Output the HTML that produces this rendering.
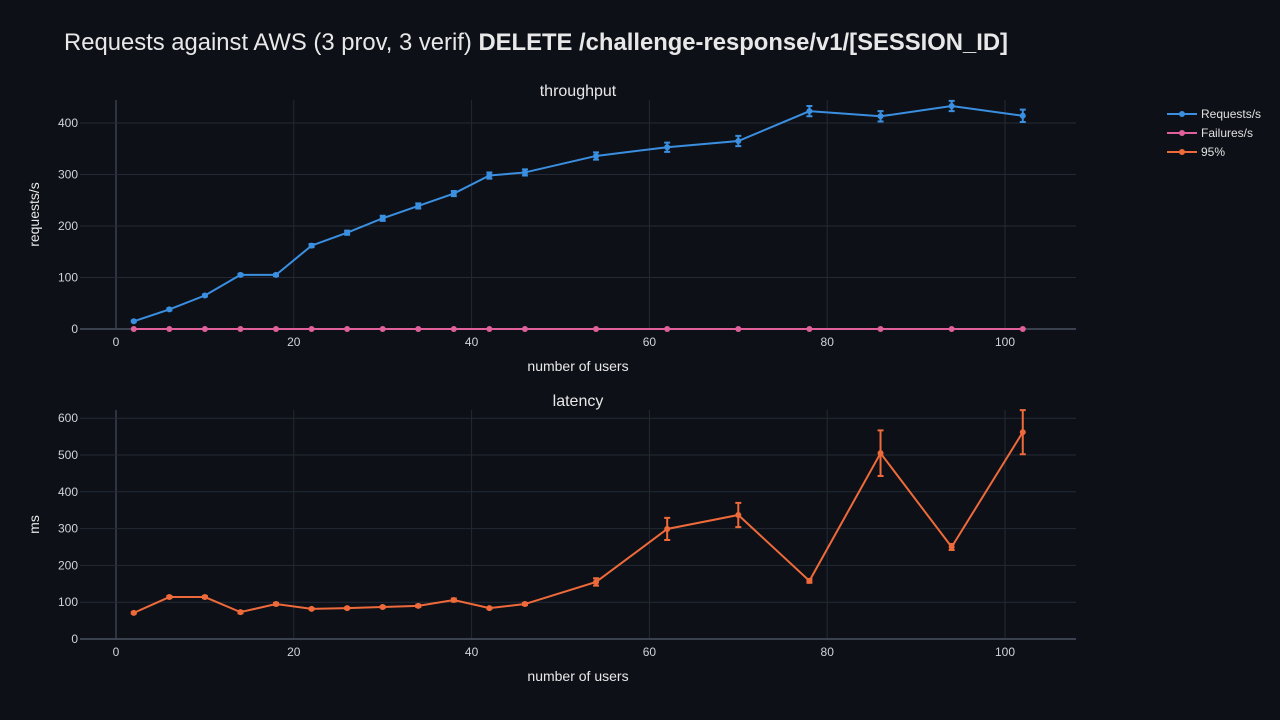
<!DOCTYPE html>
<html><head><meta charset="utf-8"><style>
html,body{margin:0;padding:0;background:#0d1017;}
svg{display:block;font-family:"Liberation Sans",sans-serif;}
</style></head><body>
<svg id="c" width="1280" height="720">
<rect width="1280" height="720" fill="#0d1017"/>
<text x="64" y="50" font-size="24" fill="#e8e8e8" textLength="944" lengthAdjust="spacingAndGlyphs">Requests against AWS (3 prov, 3 verif) <tspan font-weight="bold">DELETE /challenge-response/v1/[SESSION_ID]</tspan></text>
<g id="legend"></g>
</svg>
<script>
const users = [2,6,10,14,18,22,26,30,34,38,42,46,54,62,70,78,86,94,102];
const requests = [15,38,65,105,105,162,187,215,239,263,298,304,336,353,365,423,413,433,414];
const requestsErr = [1,2,2,2,2,3,4,5,5,5,6,6,7,9,10,10,10,10,12];
const failures = [0,0,0,0,0,0,0,0,0,0,0,0,0,0,0,0,0,0,0];
const p95 = [71,114,114,73,95,82,84,87,90,106,84,95,155,299,337,158,505,250,562];
const p95Err = [2,3,3,3,3,2,2,2,3,4,2,3,10,30,33,5,62,8,60];
const xTicks = [0,20,40,60,80,100];
const yTicksTop = [0,100,200,300,400];
const yTicksBot = [0,100,200,300,400,500,600];

const svg = document.getElementById('c');
const NS = 'http://www.w3.org/2000/svg';
function el(tag, attrs, parent){const e=document.createElementNS(NS,tag);for(const k in attrs)e.setAttribute(k,attrs[k]);(parent||svg).appendChild(e);return e;}
const xs = v => 116 + v*8.89;
const L=80,R=1076;

function panel(cfg){
  const g = el('g',{});
  
  
  const ys = v => cfg.y0 - v*cfg.k;
  xTicks.forEach(t=>{
    el('line',{x1:xs(t),x2:xs(t),y1:cfg.top,y2:cfg.y0,stroke:t===0?'#2c3440':'#232a35','stroke-width':t===0?2:1},g);
    const tx=el('text',{x:xs(t),y:cfg.y0+17,'font-size':12,fill:'#cfd3da','text-anchor':'middle'},g);tx.textContent=t;
  });
  cfg.yt.forEach(t=>{
    el('line',{x1:L,x2:R,y1:ys(t),y2:ys(t),stroke:t===0?'#3a4250':'#232a35','stroke-width':t===0?2:1},g);
    const tx=el('text',{x:L-2,y:ys(t)+4,'font-size':12,fill:'#cfd3da','text-anchor':'end'},g);tx.textContent=t;
  });
  const tt=el('text',{x:578,y:cfg.top-4,'font-size':16,fill:'#e8e8e8','text-anchor':'middle'},g);tt.textContent=cfg.title;
  const xt=el('text',{x:578,y:cfg.y0+42,'font-size':14,fill:'#e8e8e8','text-anchor':'middle'},g);xt.textContent='number of users';
  const yt=el('text',{x:0,y:0,'font-size':14,fill:'#e8e8e8','text-anchor':'middle',transform:`translate(39,${(cfg.top+cfg.y0)/2}) rotate(-90)`},g);yt.textContent=cfg.ytitle;
  cfg.series.forEach(s=>{
    const sg=el('g',{},g);
    
    
    if(s.err) users.forEach((u,i)=>{
      const x=xs(u),a=ys(s.vals[i]+s.err[i]),b=ys(s.vals[i]-s.err[i]);
      el('path',{d:`M${x},${a}V${b}M${x-3},${a}H${x+3}M${x-3},${b}H${x+3}`,stroke:s.color,'stroke-width':2,fill:'none'},sg);
    });
    el('polyline',{points:users.map((u,i)=>xs(u)+','+ys(s.vals[i])).join(' '),fill:'none',stroke:s.color,'stroke-width':2},sg);
    users.forEach((u,i)=>{
      const c=el('circle',{cx:xs(u),cy:ys(s.vals[i]),r:3,fill:s.color},sg);
      
      
    });
  });
}
panel({name:'throughput-panel',title:'throughput',ytitle:'requests/s',top:100,y0:329,k:0.515,yt:yTicksTop,
  series:[{name:'requests-series',vals:requests,err:requestsErr,color:'#3b8fe0'},{name:'failures-series',vals:failures,color:'#e0609c'}]});
panel({name:'latency-panel',title:'latency',ytitle:'ms',top:410,y0:639,k:0.368,yt:yTicksBot,
  series:[{name:'p95-series',vals:p95,err:p95Err,color:'#ee6a3a'}]});

const lg=document.getElementById('legend');
[['Requests/s','#3b8fe0'],['Failures/s','#e0609c'],['95%','#ee6a3a']].forEach((d,i)=>{
  const y=114+i*19;
  const e=el('g',{},lg);
  
  
  el('line',{x1:1167,x2:1197,y1:y,y2:y,stroke:d[1],'stroke-width':2},e);
  el('circle',{cx:1182,cy:y,r:3,fill:d[1]},e);
  const t=el('text',{x:1201,y:y+4,'font-size':12,fill:'#e0e0e0'},e);t.textContent=d[0];
});
</script>
</body></html>
